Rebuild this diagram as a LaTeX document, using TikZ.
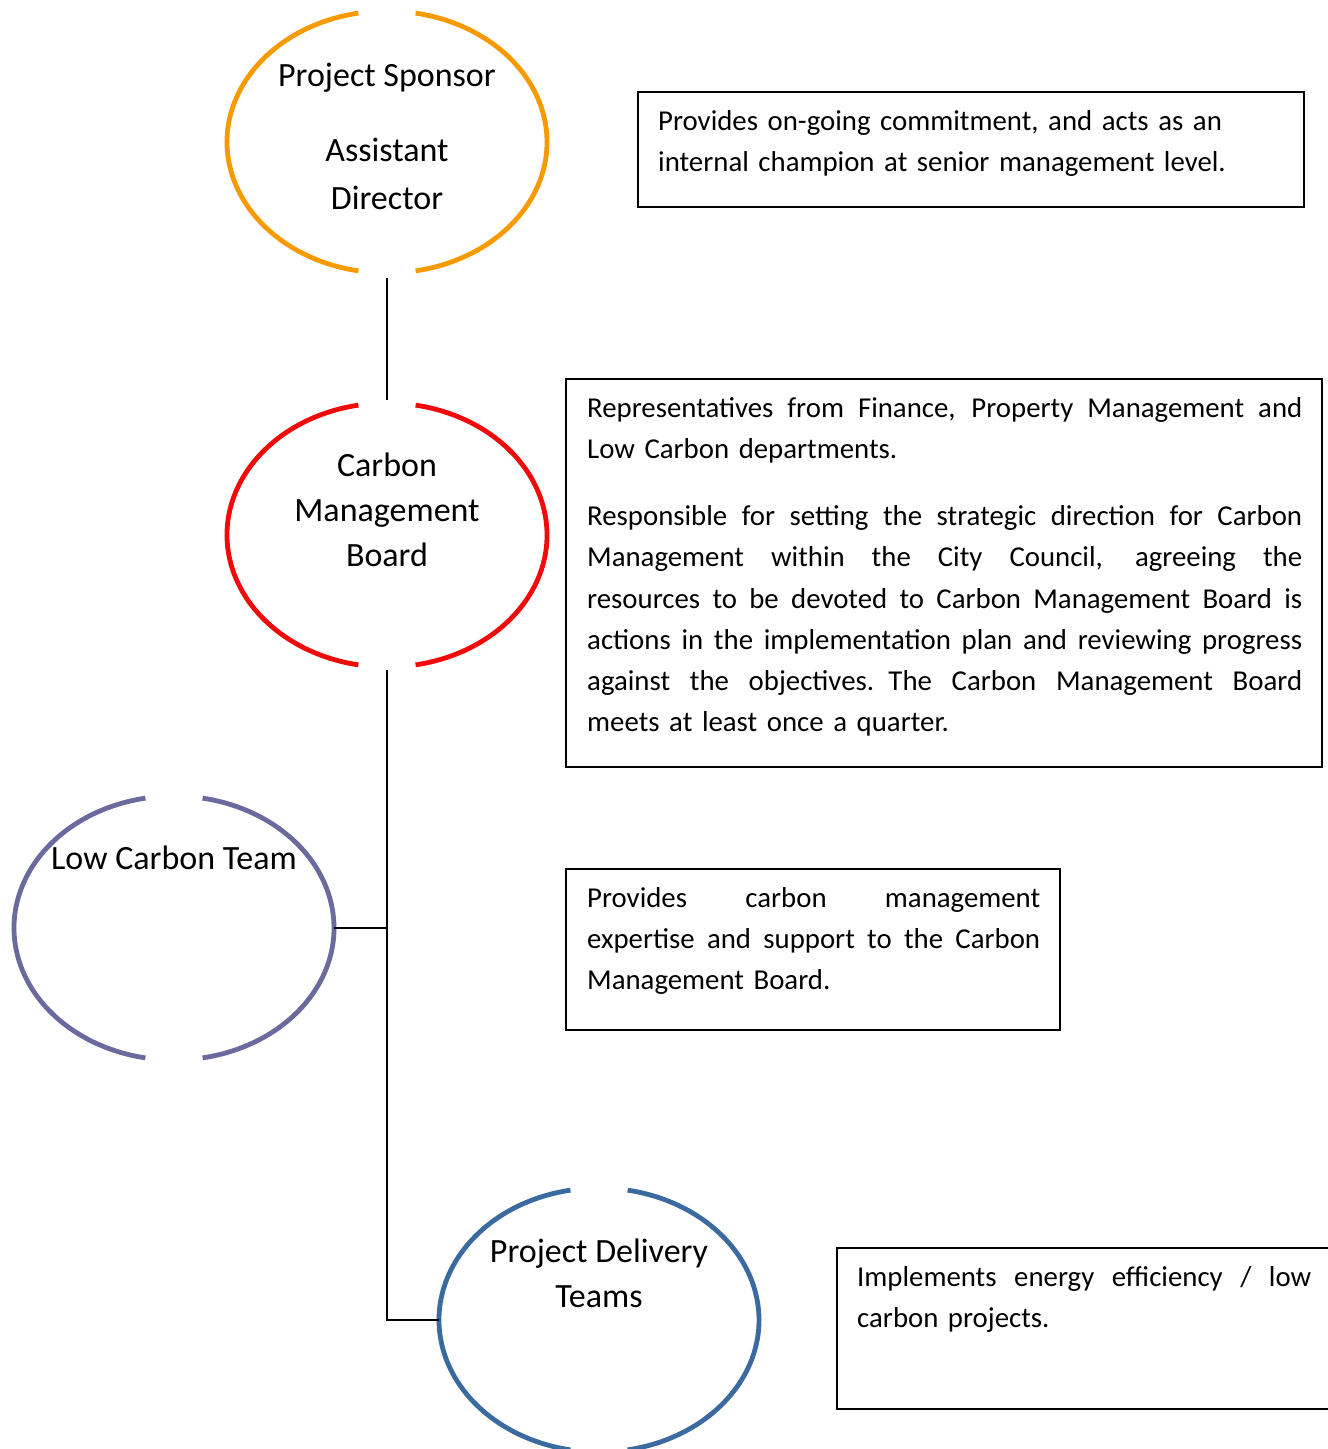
\documentclass[tikz,border=0pt]{standalone}
\usepackage{fontspec}
\setmainfont{Carlito}
\usetikzlibrary{shapes.geometric}
\definecolor{cOrange}{HTML}{F79A00}
\definecolor{cRed}{HTML}{F00A0A}
\definecolor{cPurple}{HTML}{6A6A9E}
\definecolor{cBlue}{HTML}{3A6AA0}
\newcommand{\jline}[2]{\makebox[#1][s]{\spaceskip=\fontdimen2\font plus 1fil\relax #2}}
\newcommand{\gapring}[3]{%
  \draw[ring,#2] (#1.center) ++(100.3:160 and #3) arc[start angle=100.3,end angle=259.7,x radius=160,y radius=#3];
  \draw[ring,#2] (#1.center) ++(-79.7:160 and #3) arc[start angle=-79.7,end angle=79.7,x radius=160,y radius=#3];}
\begin{document}
\begin{tikzpicture}[x=1pt,y=1pt,
  ring/.style={line width=4.8pt},
  link/.style={line width=1.5pt, black},
  infobox/.style={draw=black, line width=1.1pt, anchor=north west, inner sep=0pt, outer sep=0pt},
  boxtext/.style={anchor=north west, inner sep=0pt, align=left, font=\fontsize{28.8}{41.2}\selectfont},
  ringtext/.style={anchor=north, inner sep=0pt, align=center, font=\fontsize{34}{45}\selectfont},
  hub/.style={ellipse, minimum width=320pt, inner sep=0pt, outer sep=0pt}
]
\useasboundingbox (0,0) rectangle (1328,-1449);

% rings
\node[hub, minimum height=262pt] (ps) at (387,-142) {};
\node[hub, minimum height=264pt] (cmb) at (387,-535) {};
\node[hub, minimum height=264pt] (lct) at (174,-928) {};
\node[hub, minimum height=264pt] (pdt) at (599,-1320) {};
\gapring{ps}{cOrange}{131}
\gapring{cmb}{cRed}{132}
\gapring{lct}{cPurple}{132}
\gapring{pdt}{cBlue}{132}

% ring labels
\node[ringtext] (psl) at (387,-60) {\rule{0pt}{26pt}Project Sponsor\\[30pt]Assistant\\[3pt]Director};
\node[ringtext] (cmbl) at (387,-450) {\rule{0pt}{26pt}Carbon\\Management\\Board};
\node[ringtext] (lctl) at (174,-843) {\rule{0pt}{26pt}Low Carbon Team};
\node[ringtext] (pdtl) at (599,-1236) {\rule{0pt}{26pt}Project Delivery\\Teams};

% connectors
\draw[link] ([yshift=-5pt]ps.south) -- ([yshift=3pt]cmb.north);
\draw[link] ([yshift=-3pt]cmb.south) |- (pdt.west);
\draw[link] (lct.east) -- (lct.east -| cmb.south);

% boxes
\node[infobox, minimum width=666pt, minimum height=115pt] (b1) at (638,-92) {};
\node[infobox, minimum width=756pt, minimum height=388pt] (b2) at (566,-379) {};
\node[infobox, minimum width=494pt, minimum height=161pt] (b3) at (566,-869) {};
\node[infobox, minimum width=520pt, minimum height=161pt] (b4) at (837,-1248) {};

\node[boxtext, text width=640pt] (t1) at (658,-108) {\rule{0pt}{22pt}Provides on-going commitment, and acts as an\\internal champion at senior management level.};

\node[boxtext, text width=715pt] (t2) at (587,-395) {\rule{0pt}{22pt}\jline{715pt}{Representatives from Finance, Property Management and}\\
Low Carbon departments.\\[26pt]
\jline{715pt}{Responsible for setting the strategic direction for Carbon}\\
\jline{715pt}{Management within the City Council, agreeing the}\\
\jline{715pt}{resources to be devoted to Carbon Management Board is}\\
\jline{715pt}{actions in the implementation plan and reviewing progress}\\
\jline{715pt}{against the objectives. The Carbon Management Board}\\
meets at least once a quarter.};

\node[boxtext, text width=453pt] (t3) at (587,-885) {\rule{0pt}{22pt}\jline{453pt}{Provides carbon management}\\
\jline{453pt}{expertise and support to the Carbon}\\
Management Board.};

\node[boxtext, text width=454pt] (t4) at (857,-1264) {\rule{0pt}{22pt}\jline{454pt}{Implements energy efficiency / low}\\
carbon projects.};
\end{tikzpicture}
\end{document}
